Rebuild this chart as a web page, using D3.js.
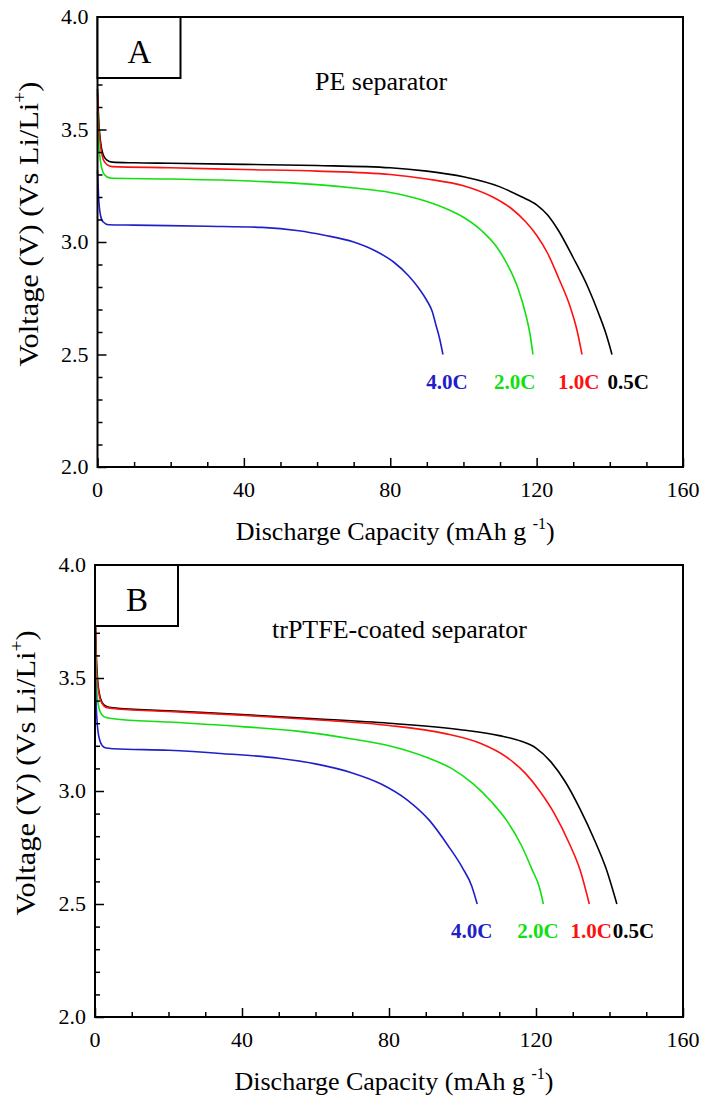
<!DOCTYPE html>
<html>
<head>
<meta charset="utf-8">
<script src="https://cdn.jsdelivr.net/npm/d3@7"></script>
<style>
  body { margin: 0; background: #fff; }
</style>
</head>
<body>
<svg id="chart" width="710" height="1105" font-family="'Liberation Serif', 'Times New Roman', 'DejaVu Serif', serif"></svg>
<script>
// axis ticks
const capTicks = [0, 40, 80, 120, 160];
const voltTicks = [2.0, 2.5, 3.0, 3.5, 4.0];
const rates = ["0.5C", "1.0C", "2.0C", "4.0C"];
const rateColors = ["#000000", "#ff1010", "#10e010", "#2020c8"];

// Panel A: PE separator  [capacity, voltage]
const pe05 = [[0,3.68],[0.3,3.55],[0.8,3.45],[1.5,3.39],[2.5,3.365],[4,3.355],[10,3.352],[20,3.35],[40,3.345],[60,3.34],[80,3.33],[90,3.315],[100,3.29],[110,3.245],[116,3.2],[120,3.165],[123,3.12],[126,3.05],[130,2.93],[134,2.8],[137,2.68],[139,2.59],[140.6,2.5]];
const pe10 = [[0,3.66],[0.3,3.53],[0.8,3.43],[1.5,3.37],[2.5,3.345],[4,3.335],[20,3.33],[40,3.322],[60,3.315],[80,3.3],[90,3.28],[100,3.25],[108,3.2],[113,3.15],[117,3.09],[120,3.03],[123,2.95],[126,2.84],[129,2.72],[131,2.61],[132.4,2.5]];
const pe20 = [[0,3.58],[0.3,3.45],[0.8,3.36],[1.5,3.31],[2.5,3.29],[4,3.283],[20,3.28],[40,3.272],[50,3.265],[60,3.255],[70,3.24],[80,3.22],[88,3.19],[95,3.15],[100,3.11],[105,3.05],[109,2.98],[112,2.9],[115,2.79],[117,2.68],[118.2,2.59],[119,2.5]];
const pe40 = [[0,3.32],[0.3,3.2],[0.8,3.12],[1.5,3.09],[3,3.077],[10,3.075],[30,3.07],[45,3.065],[55,3.05],[62,3.03],[70,3.0],[76,2.96],[81,2.91],[85,2.85],[88,2.79],[90,2.74],[91.5,2.69],[92.5,2.63],[93.5,2.57],[94.4,2.5]];

// Panel B: trPTFE-coated separator
const tr05 = [[0,3.95],[0.2,3.7],[0.6,3.52],[1.2,3.43],[2,3.39],[3,3.375],[5,3.368],[20,3.355],[40,3.338],[60,3.32],[80,3.3],[100,3.27],[110,3.245],[116,3.22],[120,3.19],[124,3.13],[128,3.04],[132,2.92],[136,2.78],[139,2.66],[142,2.5]];
const tr10 = [[0,3.86],[0.2,3.66],[0.6,3.5],[1.2,3.42],[2,3.385],[3,3.37],[5,3.365],[20,3.352],[40,3.335],[60,3.315],[80,3.29],[95,3.255],[105,3.21],[112,3.15],[117,3.08],[121,3.0],[125,2.9],[129,2.77],[132,2.65],[134.5,2.5]];
const tr20 = [[0,3.73],[0.2,3.55],[0.6,3.42],[1.2,3.36],[2,3.335],[3,3.325],[5,3.32],[20,3.305],[40,3.285],[55,3.265],[70,3.23],[80,3.2],[90,3.15],[97,3.1],[103,3.03],[108,2.95],[112,2.87],[116,2.76],[119,2.65],[121,2.57],[122,2.5]];
const tr40 = [[0,3.63],[0.2,3.45],[0.6,3.3],[1.2,3.23],[2,3.2],[3,3.19],[5,3.187],[20,3.18],[35,3.165],[50,3.145],[60,3.12],[70,3.08],[78,3.03],[85,2.96],[91,2.87],[96,2.76],[100,2.66],[102.5,2.58],[104,2.5]];

const svg = d3.select("#chart");

function drawPanel(p) {
  const x = d3.scaleLinear().domain([0, 160]).range([p.left, p.right]);
  const y = d3.scaleLinear().domain([2, 4]).range([p.bottom, p.top]);
  const g = svg.append("g");

  // curves
  const line = d3.line().x(d => x(d[0])).y(d => y(d[1])).curve(d3.curveMonotoneX);
  p.series.forEach((s, i) => {
    g.append("path")
      .attr("d", line(s))
      .attr("fill", "none")
      .attr("stroke", rateColors[i])
      .attr("stroke-width", 1.6);
  });

  // x axis, ticks pointing inward
  const xAxis = d3.axisBottom(x).tickValues(d3.range(0, 161, 10))
    .tickSize(0).tickFormat("");
  const xg = g.append("g").attr("transform", `translate(0,${p.bottom})`).call(xAxis);
  xg.select(".domain").remove();
  xg.selectAll(".tick line")
    .attr("y2", d => d % 40 === 0 ? -9 : -5)
    .attr("stroke", "#000").attr("stroke-width", 1.5);

  const yAxis = d3.axisLeft(y).tickValues(d3.range(20, 41).map(v => v / 10))
    .tickSize(0).tickFormat("");
  const yg = g.append("g").attr("transform", `translate(${p.left},0)`).call(yAxis);
  yg.select(".domain").remove();
  yg.selectAll(".tick line")
    .attr("x2", d => Math.round(d * 10) % 5 === 0 ? 9 : 5)
    .attr("stroke", "#000").attr("stroke-width", 1.5);

  // tick labels
  g.selectAll(".xl").data(capTicks).enter().append("text")
    .attr("x", d => x(d)).attr("y", p.bottom + 30)
    .attr("text-anchor", "middle").attr("font-size", 22)
    .text(d => d);
  g.selectAll(".yl").data(voltTicks).enter().append("text")
    .attr("x", p.left - 9).attr("y", d => y(d) + 7)
    .attr("text-anchor", "end").attr("font-size", 22)
    .text(d => d.toFixed(1));

  // frame
  g.append("rect")
    .attr("x", p.left).attr("y", p.top)
    .attr("width", p.right - p.left).attr("height", p.bottom - p.top)
    .attr("fill", "none").attr("stroke", "#000").attr("stroke-width", 2);

  // panel letter box
  g.append("rect")
    .attr("x", p.left).attr("y", p.top)
    .attr("width", 83).attr("height", 61)
    .attr("fill", "#fff").attr("stroke", "#000").attr("stroke-width", 2);
  g.append("text")
    .attr("x", p.left + 42).attr("y", p.top + 46)
    .attr("text-anchor", "middle").attr("font-size", 33)
    .text(p.letter);

  g.append("text")
    .attr("x", p.noteX).attr("y", p.top + 73)
    .attr("font-size", 26)
    .text(p.note);

  // rate labels under curve ends
  rates.forEach((r, i) => {
    g.append("text")
      .attr("x", x(p.labelCap[i])).attr("y", y(2.38) + 7)
      .attr("text-anchor", "middle")
      .attr("font-size", 21).attr("font-weight", "bold")
      .attr("fill", rateColors[i])
      .text(r);
  });

  // axis titles
  const xt = g.append("text")
    .attr("x", (p.left + p.right) / 2 + 5).attr("y", p.bottom + 73)
    .attr("text-anchor", "middle").attr("font-size", 26);
  xt.append("tspan").text("Discharge Capacity (mAh g ");
  xt.append("tspan").attr("font-size", 16).attr("dy", -11).text("-1");
  xt.append("tspan").attr("dy", 11).text(")");

  const yt = g.append("text")
    .attr("transform", `translate(${p.left - 60},${y(3.08)}) rotate(-90)`)
    .attr("text-anchor", "middle").attr("font-size", 28);
  yt.append("tspan").text("Voltage (V) (Vs Li/Li");
  yt.append("tspan").attr("font-size", 18).attr("dy", -12).text("+");
  yt.append("tspan").attr("dy", 12).text(")");
  const full = yt.node().getComputedTextLength();
  yt.attr("textLength", 285).attr("lengthAdjust", "spacingAndGlyphs");
  if (!full) yt.attr("textLength", null);
}

drawPanel({
  left: 97.5, right: 683, top: 17, bottom: 467,
  letter: "A", note: "PE separator", noteX: 315,
  series: [pe05, pe10, pe20, pe40],
  labelCap: [145, 131.5, 114, 95.5]
});

drawPanel({
  left: 95, right: 683, top: 565, bottom: 1017,
  letter: "B", note: "trPTFE-coated separator", noteX: 272,
  series: [tr05, tr10, tr20, tr40],
  labelCap: [146.5, 135, 120.5, 102.5]
});
</script>
</body>
</html>
